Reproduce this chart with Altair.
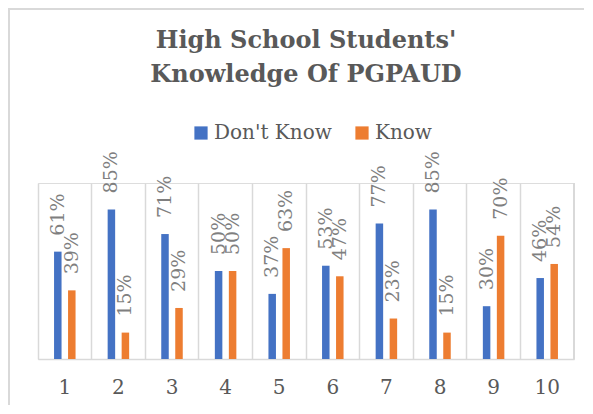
import altair as alt
import pandas as pd

categories = ["1", "2", "3", "4", "5", "6", "7", "8", "9", "10"]
dont_know = [61, 85, 71, 50, 37, 53, 77, 85, 30, 46]
know = [39, 15, 29, 50, 63, 47, 23, 15, 70, 54]
series = ["Don't Know", "Know"]
colors = ["#4472C4", "#ED7D31"]

rows = []
for c, d, k in zip(categories, dont_know, know):
    rows.append({"cat": c, "series": series[0], "value": d, "label": f"{d}%"})
    rows.append({"cat": c, "series": series[1], "value": k, "label": f"{k}%"})
df = pd.DataFrame(rows)

W, H = 536, 176
FONT = "DejaVu Serif"
GRAY = "#595959"
LABEL_GRAY = "#7F7F7F"
BORDER = "#D9D9D9"

x_enc = alt.X("cat:N", sort=categories,
              scale=alt.Scale(paddingInner=0, paddingOuter=0),
              axis=alt.Axis(title=None, labelAngle=0, ticks=False, grid=True,
                            bandPosition=0, gridColor=BORDER, gridWidth=1.5,
                            domainColor=BORDER, domainWidth=1.5,
                            labelFont=FONT, labelFontSize=20, labelColor=GRAY,
                            labelPadding=18))
y_enc = alt.Y("value:Q", scale=alt.Scale(domain=[0, 100]), axis=None)
color_enc = alt.Color("series:N", scale=alt.Scale(domain=series, range=colors),
                      legend=alt.Legend(title=None, orient="none", direction="horizontal",
                                        legendX=153, legendY=-60,
                                        symbolType="square", symbolSize=175,
                                        symbolStrokeWidth=0, labelFont=FONT,
                                        labelFontSize=20, labelColor=GRAY,
                                        labelOffset=3, columnPadding=20))

layers = []
for s, off in zip(series, [-7, 7]):
    sub = alt.Chart(df).transform_filter(alt.datum.series == s)
    layers.append(sub.mark_bar(size=7.5, xOffset=off).encode(x=x_enc, y=y_enc, color=color_enc))
    layers.append(sub.mark_text(angle=270, align="left", baseline="middle", dx=16, xOffset=off,
                                font=FONT, fontSize=19, color=LABEL_GRAY)
                  .encode(x=x_enc, y=y_enc, text="label:N"))

right_rule = alt.Chart(df).mark_rule(color=BORDER, strokeWidth=1.5).encode(
    x=alt.value(W), y=alt.value(0), y2=alt.value(H))

border_left = alt.Chart(df).mark_rule(color=BORDER, strokeWidth=2, clip=False).encode(
    x=alt.value(-29), y=alt.value(-174), y2=alt.value(H + 80))
border_top = alt.Chart(df).mark_rule(color=BORDER, strokeWidth=2, clip=False).encode(
    x=alt.value(-30), x2=alt.value(W + 100), y=alt.value(-174))

chart = alt.layer(border_left, border_top, right_rule, *layers).properties(
    width=W, height=H,
    title=alt.TitleParams(text=["High School Students'", "Knowledge Of PGPAUD"],
                          font=FONT, fontSize=24, fontWeight="bold", color=GRAY,
                          anchor="middle", lineHeight=34, offset=10, dy=89),
    autosize=alt.AutoSizeParams(type="none"),
    padding={"left": 30, "top": 175, "right": 10, "bottom": 46},
).configure_view(stroke=None).configure(background="white")

chart.save("out.html", embed_options={"renderer": "svg", "actions": False})
